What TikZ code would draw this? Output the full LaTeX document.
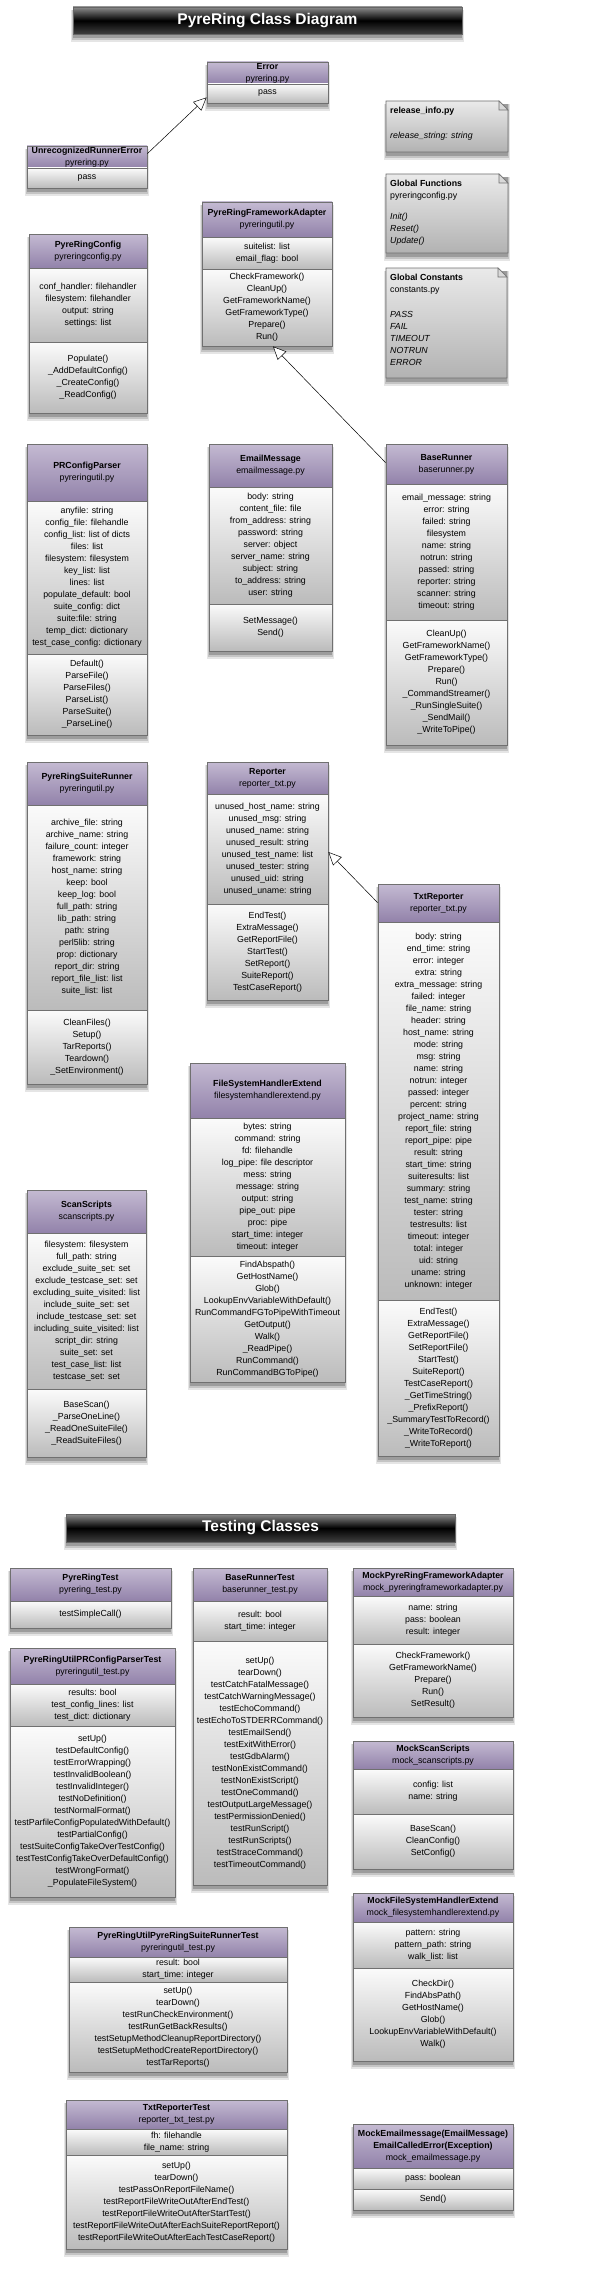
\documentclass[tikz,border=0pt]{standalone}
\usepackage{fontspec}
\setmainfont{Liberation Sans}
\usetikzlibrary{arrows.meta,fit,calc}
\definecolor{hdrtop}{HTML}{C4BAD2}
\definecolor{hdrbot}{HTML}{9282AA}
\definecolor{bodytop}{HTML}{FBFBFB}
\definecolor{bodybot}{HTML}{BBBBBB}
\definecolor{bordc}{HTML}{707070}
\definecolor{notetop}{HTML}{EAEAEA}
\definecolor{notebot}{HTML}{B2B2B2}
\tikzset{
  hdrfill/.style={top color=hdrtop,bottom color=hdrbot},
  bodyfill/.style={top color=bodytop,bottom color=bodybot},
  notefill/.style={top color=notetop,bottom color=notebot},
  sepline/.style={draw=bordc,line width=0.6pt},
  outline/.style={draw=bordc,line width=0.8pt,inner sep=0pt},
  txt/.style={font=\fontsize{8.8}{12}\selectfont,align=center,inner sep=0pt},
  notetxt/.style={font=\fontsize{8.8}{12}\selectfont,align=left,inner sep=0pt,anchor=north west},
  bartxt/.style={font=\fontsize{15.5}{18}\selectfont\bfseries,text=white,inner sep=0pt},
  inh/.style={draw=black,line width=0.5pt,-{Triangle[open,fill=white,length=13pt,width=12pt]}},
}
\newcommand\softshadow[4]{%
  \fill[black,opacity=.10] (#1-2,#2+3) rectangle (#3+2,#4+8);
  \fill[black,opacity=.14] (#1-1,#2+3) rectangle (#3+1,#4+6);
  \fill[black,opacity=.20] (#1,#2+3) rectangle (#3,#4+4);
}
\newcommand\umlclass[9]{%
  \def\cN{#1}\def\cXa{#2}\def\cYa{#3}\def\cXb{#4}\def\cYb{#5}\def\cYh{#6}\def\cYm{#7}%
  \def\cHead{#8}\def\cAttr{#9}\umlclassB}
\newcommand\umlclassB[1]{%
  \softshadow{\cXa}{\cYa}{\cXb}{\cYb}
  \path[hdrfill] (\cXa,\cYa) rectangle (\cXb,\cYh);
  \path[bodyfill] (\cXa,\cYh) rectangle (\cXb,\cYm);
  \path[bodyfill] (\cXa,\cYm) rectangle (\cXb,\cYb);
  \draw[sepline] (\cXa,\cYh) -- (\cXb,\cYh) (\cXa,\cYm) -- (\cXb,\cYm);
  \node[outline,fit={(\cXa,\cYa) (\cXb,\cYb)}] (\cN) {};
  \node[txt] (\cN-h) at ({(\cXa+\cXb)/2},{(\cYa+\cYh)/2}) {\cHead};
  \node[txt] (\cN-a) at ({(\cXa+\cXb)/2},{(\cYh+\cYm)/2}) {\cAttr};
  \node[txt] (\cN-m) at ({(\cXa+\cXb)/2},{(\cYm+\cYb)/2}) {#1};
}
\newcommand\umlsimple[8]{%
  \softshadow{#2}{#3}{#4}{#5}
  \path[hdrfill] (#2,#3) rectangle (#4,#6);
  \path[bodyfill] (#2,#6) rectangle (#4,#5);
  \draw[sepline] (#2,#6) -- (#4,#6);
  \node[outline,fit={(#2,#3) (#4,#5)}] (#1) {};
  \node[txt] (#1-h) at ({(#2+#4)/2},{(#3+#6)/2}) {#7};
  \node[txt] (#1-m) at ({(#2+#4)/2},{(#6+#5)/2}) {#8};
}
\newcommand\umlnote[6]{%
  \softshadow{#2}{#3}{#4}{#5}
  \path[notefill] (#2,#3) -- (#4-9,#3) -- (#4,#3+9) -- (#4,#5) -- (#2,#5) -- cycle;
  \draw[bordc,line width=0.8pt] (#2,#3) -- (#4-9,#3) -- (#4,#3+9) -- (#4,#5) -- (#2,#5) -- cycle;
  \draw[bordc,line width=0.6pt,fill=white!85!black] (#4-9,#3) -- (#4-9,#3+9) -- (#4,#3+9) -- cycle;
  \node[notetxt] (#1) at (#2+4,#3+6) {#6};
}
\newcommand\titlebar[6]{%
  \softshadow{#2}{#3}{#4}{#5}
  \path[top color=black!45,bottom color=black!75,middle color=black] (#2,#3) rectangle (#4,#5);
  \node[draw=black!60,line width=0.6pt,inner sep=0pt,fit={(#2,#3) (#4,#5)}] (#1) {};
  \node[bartxt] (#1-t) at ({(#2+#4)/2},{(#3+#5)/2}) {#6};
}
\begin{document}
\begin{tikzpicture}[x=1pt,y=-1pt]
\fill[white] (0,0) rectangle (601,2269);
\useasboundingbox (0,0) rectangle (601,2269);

\titlebar{title1}{73}{7}{462}{34}{PyreRing Class Diagram}

\umlsimple{Error}{207}{62}{328}{103}{84}{\textbf{Error}\\pyrering.py}{pass}
\umlsimple{URE}{27}{146}{147}{188}{168}{\textbf{UnrecognizedRunnerError}\\pyrering.py}{pass}

\umlnote{relinfo}{386}{101}{508}{152}{\textbf{release\_info.py}\\[13pt]\textit{release\_string: string}}
\umlnote{globfun}{386}{174}{508}{253}{\textbf{Global Functions}\\pyreringconfig.py\\[9pt]\textit{Init()}\\\textit{Reset()}\\\textit{Update()}}
\umlnote{globconst}{386}{268}{507}{378}{\textbf{Global Constants}\\constants.py\\[13pt]\textit{PASS}\\\textit{FAIL}\\\textit{TIMEOUT}\\\textit{NOTRUN}\\\textit{ERROR}}

\umlclass{PRFA}{202}{202}{332}{346}{237}{269}{\textbf{PyreRingFrameworkAdapter}\\pyreringutil.py}
 {suitelist: list\\email\_flag: bool}
 {CheckFramework()\\CleanUp()\\GetFrameworkName()\\GetFrameworkType()\\Prepare()\\Run()}

\umlclass{PRConfig}{29}{234}{147}{413}{268}{342}{\textbf{PyreRingConfig}\\pyreringconfig.py}
 {conf\_handler: filehandler\\filesystem: filehandler\\output: string\\settings: list}
 {Populate()\\\_AddDefaultConfig()\\\_CreateConfig()\\\_ReadConfig()}

\umlclass{PRCP}{27}{444}{147}{735}{501}{654}{\textbf{PRConfigParser}\\pyreringutil.py}
 {anyfile: string\\config\_file: filehandle\\config\_list: list of dicts\\files: list\\filesystem: filesystem\\key\_list: list\\lines: list\\populate\_default: bool\\suite\_config: dict\\suite:file: string\\temp\_dict: dictionary\\test\_case\_config: dictionary}
 {Default()\\ParseFile()\\ParseFiles()\\ParseList()\\ParseSuite()\\\_ParseLine()}

\umlclass{EmailMessage}{209}{444}{332}{651}{487}{604}{\textbf{EmailMessage}\\emailmessage.py}
 {body: string\\content\_file: file\\from\_address: string\\password: string\\server: object\\server\_name: string\\subject: string\\to\_address: string\\user: string}
 {SetMessage()\\Send()}

\umlclass{BaseRunner}{386}{444}{507}{745}{484}{620}{\textbf{BaseRunner}\\baserunner.py}
 {email\_message: string\\error: string\\failed: string\\filesystem\\name: string\\notrun: string\\passed: string\\reporter: string\\scanner: string\\timeout: string}
 {CleanUp()\\GetFrameworkName()\\GetFrameworkType()\\Prepare()\\Run()\\\_CommandStreamer()\\\_RunSingleSuite()\\\_SendMail()\\\_WriteToPipe()}

\umlclass{PRSR}{27}{762}{147}{1084}{805}{1010}{\textbf{PyreRingSuiteRunner}\\pyreringutil.py}
 {archive\_file: string\\archive\_name: string\\failure\_count: integer\\framework: string\\host\_name: string\\keep: bool\\keep\_log: bool\\full\_path: string\\lib\_path: string\\path: string\\perl5lib: string\\prop: dictionary\\report\_dir: string\\report\_file\_list: list\\suite\_list: list}
 {CleanFiles()\\Setup()\\TarReports()\\Teardown()\\\_SetEnvironment()}

\umlclass{Reporter}{207}{762}{328}{1000}{794}{904}{\textbf{Reporter}\\reporter\_txt.py}
 {unused\_host\_name: string\\unused\_msg: string\\unused\_name: string\\unused\_result: string\\unused\_test\_name: list\\unused\_tester: string\\unused\_uid: string\\unused\_uname: string}
 {EndTest()\\ExtraMessage()\\GetReportFile()\\StartTest()\\SetReport()\\SuiteReport()\\TestCaseReport()}

\umlclass{TxtReporter}{378}{884}{499}{1456}{922}{1300}{\textbf{TxtReporter}\\reporter\_txt.py}
 {body: string\\end\_time: string\\error: integer\\extra: string\\extra\_message: string\\failed: integer\\file\_name: string\\header: string\\host\_name: string\\mode: string\\msg: string\\name: string\\notrun: integer\\passed: integer\\percent: string\\project\_name: string\\report\_file: string\\report\_pipe: pipe\\result: string\\start\_time: string\\suiteresults: list\\summary: string\\test\_name: string\\tester: string\\testresults: list\\timeout: integer\\total: integer\\uid: string\\uname: string\\unknown: integer}
 {EndTest()\\ExtraMessage()\\GetReportFile()\\SetReportFile()\\StartTest()\\SuiteReport()\\TestCaseReport()\\\_GetTimeString()\\\_PrefixReport()\\\_SummaryTestToRecord()\\\_WriteToRecord()\\\_WriteToReport()}

\umlclass{FSHE}{190}{1063}{345}{1382}{1118}{1256}{\textbf{FileSystemHandlerExtend}\\filesystemhandlerextend.py}
 {bytes: string\\command: string\\fd: filehandle\\log\_pipe: file descriptor\\mess: string\\message: string\\output: string\\pipe\_out: pipe\\proc: pipe\\start\_time: integer\\timeout: integer}
 {FindAbspath()\\GetHostName()\\Glob()\\LookupEnvVariableWithDefault()\\RunCommandFGToPipeWithTimeout\\GetOutput()\\Walk()\\\_ReadPipe()\\RunCommand()\\RunCommandBGToPipe()}

\umlclass{ScanScripts}{27}{1190}{146}{1457}{1233}{1389}{\textbf{ScanScripts}\\scanscripts.py}
 {filesystem: filesystem\\full\_path: string\\exclude\_suite\_set: set\\exclude\_testcase\_set: set\\excluding\_suite\_visited: list\\include\_suite\_set: set\\include\_testcase\_set: set\\including\_suite\_visited: list\\script\_dir: string\\suite\_set: set\\test\_case\_list: list\\testcase\_set: set}
 {BaseScan()\\\_ParseOneLine()\\\_ReadOneSuiteFile()\\\_ReadSuiteFiles()}

\draw[inh] ([yshift=-8pt]URE.north east) -- ([yshift=6pt]Error.south west);
\draw[inh] ([yshift=-19pt]BaseRunner.north west) -- ([xshift=6pt]PRFA.south);
\draw[inh] ([yshift=-19pt]TxtReporter.north west) -- ([yshift=29pt]Reporter.east);

\titlebar{title2}{66}{1514}{455}{1542}{Testing Classes}

\umlsimple{PRTest}{10}{1568}{171}{1628}{1601}{\textbf{PyreRingTest}\\pyrering\_test.py}{testSimpleCall()}

\umlclass{PRUCPTest}{10}{1648}{175}{1897}{1684}{1726}{\textbf{PyreRingUtilPRConfigParserTest}\\pyreringutil\_test.py}
 {results: bool\\test\_config\_lines: list\\test\_dict: dictionary}
 {setUp()\\testDefaultConfig()\\testErrorWrapping()\\testInvalidBoolean()\\testInvalidInteger()\\testNoDefinition()\\testNormalFormat()\\testParfileConfigPopulatedWithDefault()\\testPartialConfig()\\testSuiteConfigTakeOverTestConfig()\\testTestConfigTakeOverDefaultConfig()\\testWrongFormat()\\\_PopulateFileSystem()}

\umlclass{BRTest}{193}{1568}{327}{1885}{1601}{1641}{\textbf{BaseRunnerTest}\\baserunner\_test.py}
 {result: bool\\start\_time: integer}
 {setUp()\\tearDown()\\testCatchFatalMessage()\\testCatchWarningMessage()\\testEchoCommand()\\testEchoToSTDERRCommand()\\testEmailSend()\\testExitWithError()\\testGdbAlarm()\\testNonExistCommand()\\testNonExistScript()\\testOneCommand()\\testOutputLargeMessage()\\testPermissionDenied()\\testRunScript()\\testRunScripts()\\testStraceCommand()\\testTimeoutCommand()}

\umlclass{MockPRFA}{353}{1568}{513}{1717}{1596}{1644}{\textbf{MockPyreRingFrameworkAdapter}\\mock\_pyreringframeworkadapter.py}
 {name: string\\pass: boolean\\result: integer}
 {CheckFramework()\\GetFrameworkName()\\Prepare()\\Run()\\SetResult()}

\umlclass{MockSS}{353}{1741}{513}{1869}{1769}{1814}{\textbf{MockScanScripts}\\mock\_scanscripts.py}
 {config: list\\name: string}
 {BaseScan()\\CleanConfig()\\SetConfig()}

\umlclass{MockFSHE}{353}{1893}{513}{2061}{1922}{1968}{\textbf{MockFileSystemHandlerExtend}\\mock\_filesystemhandlerextend.py}
 {pattern: string\\pattern\_path: string\\walk\_list: list}
 {CheckDir()\\FindAbsPath()\\GetHostName()\\Glob()\\LookupEnvVariableWithDefault()\\Walk()}

\umlclass{PRUSRTest}{69}{1927}{287}{2072}{1957}{1982}{\textbf{PyreRingUtilPyreRingSuiteRunnerTest}\\pyreringutil\_test.py}
 {result: bool\\start\_time: integer}
 {setUp()\\tearDown()\\testRunCheckEnvironment()\\testRunGetBackResults()\\testSetupMethodCleanupReportDirectory()\\testSetupMethodCreateReportDirectory()\\testTarReports()}

\umlclass{TRTest}{66}{2100}{287}{2249}{2129}{2155}{\textbf{TxtReporterTest}\\reporter\_txt\_test.py}
 {fh: filehandle\\file\_name: string}
 {setUp()\\tearDown()\\testPassOnReportFileName()\\testReportFileWriteOutAfterEndTest()\\testReportFileWriteOutAfterStartTest()\\testReportFileWriteOutAfterEachSuiteReportReport()\\testReportFileWriteOutAfterEachTestCaseReport()}

\umlclass{MockEmail}{353}{2124}{513}{2210}{2168}{2189}{\textbf{MockEmailmessage(EmailMessage)}\\\textbf{EmailCalledError(Exception)}\\mock\_emailmessage.py}
 {pass: boolean}
 {Send()}
\end{tikzpicture}
\end{document}
